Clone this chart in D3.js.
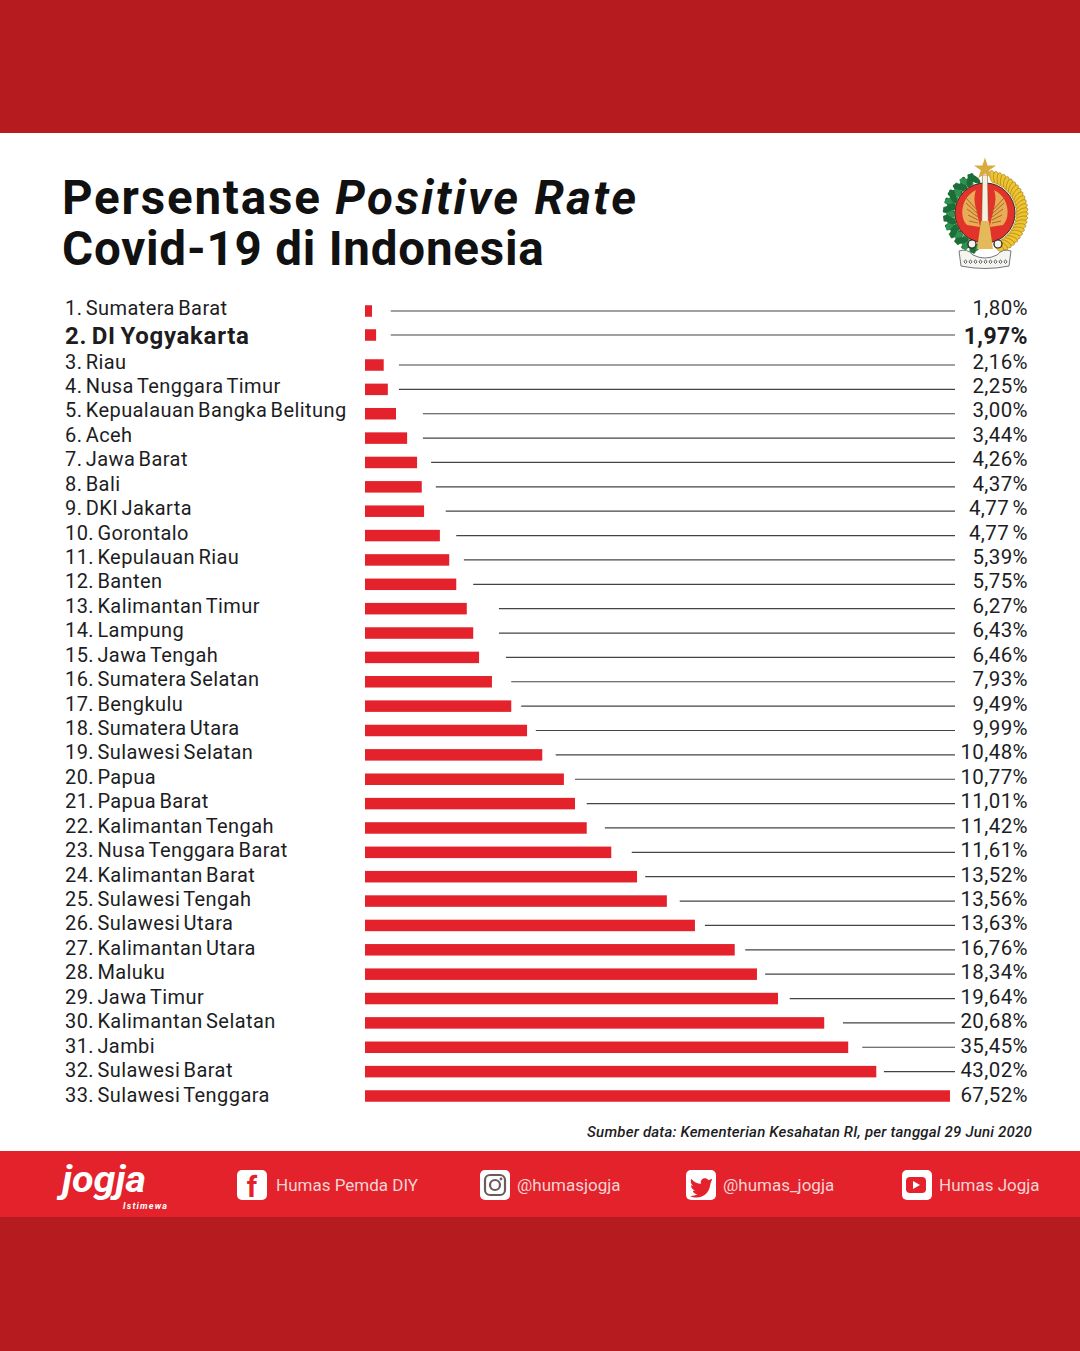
<!DOCTYPE html>
<html>
<head>
<meta charset="utf-8">
<script src="https://cdn.jsdelivr.net/npm/d3@7"></script>
<style>
  html, body { margin: 0; padding: 0; background: #fff; }
  svg { display: block; }
  text { font-family: Roboto, sans-serif; fill: #1d1d1f; }
</style>
</head>
<body>
<script>
var provinces = ["Sumatera Barat", "DI Yogyakarta", "Riau", "Nusa Tenggara Timur",
  "Kepualauan Bangka Belitung", "Aceh", "Jawa Barat", "Bali", "DKI Jakarta", "Gorontalo",
  "Kepulauan Riau", "Banten", "Kalimantan Timur", "Lampung", "Jawa Tengah", "Sumatera Selatan",
  "Bengkulu", "Sumatera Utara", "Sulawesi Selatan", "Papua", "Papua Barat", "Kalimantan Tengah",
  "Nusa Tenggara Barat", "Kalimantan Barat", "Sulawesi Tengah", "Sulawesi Utara",
  "Kalimantan Utara", "Maluku", "Jawa Timur", "Kalimantan Selatan", "Jambi", "Sulawesi Barat",
  "Sulawesi Tenggara"];

var percentLabels = ["1,80%", "1,97%", "2,16%", "2,25%", "3,00%", "3,44%", "4,26%", "4,37%",
  "4,77 %", "4,77 %", "5,39%", "5,75%", "6,27%", "6,43%", "6,46%", "7,93%", "9,49%", "9,99%",
  "10,48%", "10,77%", "11,01%", "11,42%", "11,61%", "13,52%", "13,56%", "13,63%", "16,76%",
  "18,34%", "19,64%", "20,68%", "35,45%", "43,02%", "67,52%"];

// the bars in the picture are not to scale with the percentages (4,77 has two lengths),
// so these are the lengths as drawn: longest bar = 100
var barLength = [1.2, 1.9, 3.2, 3.9, 5.3, 7.2, 8.9, 9.7, 10.1, 12.8, 14.4, 15.6, 17.4, 18.5,
  19.5, 21.7, 25, 27.7, 30.3, 34, 35.9, 37.9, 42.1, 46.5, 51.6, 56.4, 63.2, 67, 70.6, 78.5,
  82.6, 87.4, 100];

// where each thin line starts, same units. last row has no line
var leaderStart = [4.4, 4.4, 5.8, 5.8, 9.9, 9.9, 11.3, 12.1, 13.8, 15.6, 16.9, 18.5, 22.9, 22.9,
  24.1, 25, 26.7, 29.2, 32.6, 35.9, 37.9, 41, 45.6, 47.9, 53.8, 58.1, 65, 68.4, 72.6, 81.7,
  85, 88.7, null];

var socialLabels = ["Humas Pemda DIY", "@humasjogja", "@humas_jogja", "Humas Jogja"];

var highlight = "DI Yogyakarta";
var width = 1080, height = 1351;
var darkRed = "#b61c1f", red = "#e3222b";

var svg = d3.select("body").append("svg")
  .attr("width", width)
  .attr("height", height);

// page bands
svg.append("rect").attr("width", width).attr("height", height).attr("fill", "#fff");
svg.append("rect").attr("width", width).attr("height", 133).attr("fill", darkRed);
svg.append("rect").attr("y", 1217).attr("width", width).attr("height", 134).attr("fill", darkRed);
svg.append("rect").attr("y", 1151).attr("width", width).attr("height", 66).attr("fill", red);

// title
var title = svg.append("text").attr("x", 62).attr("y", 214)
  .style("font-size", "47.5px").style("font-weight", 700).style("fill", "#111");
title.append("tspan").style("letter-spacing", "1.8px").text("Persentase ");
title.append("tspan").style("font-style", "italic").style("letter-spacing", "2.3px").text("Positive Rate");
svg.append("text").attr("x", 62).attr("y", 265)
  .style("font-size", "47.5px").style("font-weight", 700).style("fill", "#111")
  .style("letter-spacing", "0.8px")
  .text("Covid-19 di Indonesia");

// scales. first rows of the list sit a bit off the regular row step
var x = d3.scaleLinear().domain([0, 100]).range([365, 950]);
var yBar = d3.scaleLinear().domain([0, 1, 2, 32]).range([311, 335, 365, 1096]);
var yText = d3.scaleLinear().domain([0, 1, 2, 32]).range([315, 344, 368.5, 1101.5]);

var rows = svg.selectAll(".row")
    .data(provinces)
  .enter().append("g")
    .attr("class", "row");

rows.append("text")
    .attr("x", 65)
    .attr("y", function(d, i) { return yText(i); })
    .style("font-size", function(d) { return d == highlight ? "24px" : "20px"; })
    .style("font-weight", function(d) { return d == highlight ? 700 : 400; })
    .style("letter-spacing", function(d) { return d == highlight ? "0.7px" : "0.42px"; })
    .style("word-spacing", "-2px")
    .text(function(d, i) { return (i + 1) + ". " + d; });

rows.append("rect")
    .attr("x", x(0))
    .attr("y", function(d, i) { return yBar(i) - 5.75; })
    .attr("width", function(d, i) { return x(barLength[i]) - x(0); })
    .attr("height", 11.5)
    .attr("fill", red);

rows.append("line")
    .attr("x1", function(d, i) { return leaderStart[i] == null ? 955 : x(leaderStart[i]); })
    .attr("x2", 955)
    .attr("y1", function(d, i) { return yBar(i); })
    .attr("y2", function(d, i) { return yBar(i); })
    .attr("stroke", "#444")
    .attr("stroke-width", 1.2);

rows.append("text")
    .attr("x", 1028)
    .attr("y", function(d, i) { return yText(i); })
    .attr("text-anchor", "end")
    .style("font-size", function(d) { return d == highlight ? "23px" : "20.5px"; })
    .style("font-weight", function(d) { return d == highlight ? 700 : 400; })
    .style("letter-spacing", "0.4px")
    .style("word-spacing", "-2px")
    .text(function(d, i) { return percentLabels[i]; });

// source note
svg.append("text").attr("x", 1032).attr("y", 1137).attr("text-anchor", "end")
  .style("font-size", "15px").style("font-style", "italic").style("font-weight", 500)
  .style("letter-spacing", "0.2px")
  .text("Sumber data: Kementerian Kesahatan RI, per tanggal 29 Juni 2020");

// emblem, rough version of the logo
var emblem = svg.append("g").attr("transform", "translate(985,213)");

function leafAngle(i, n, from, to) { return from + (to - from) * i / (n - 1); }

d3.range(24).forEach(function(i) {
  var a = leafAngle(i, 24, -165, -18);
  emblem.append("ellipse")
    .attr("rx", 7.5).attr("ry", 3.2)
    .attr("transform", "rotate(" + a + ") translate(0,-36) rotate(" + (i % 2 ? 50 : -50) + ")")
    .attr("fill", i % 3 ? "#1c6e38" : "#2f9150");
});
d3.range(26).forEach(function(i) {
  var a = leafAngle(i, 26, 12, 158);
  emblem.append("ellipse")
    .attr("rx", 6.5).attr("ry", 2.8)
    .attr("transform", "rotate(" + a + ") translate(0,-37) rotate(65)")
    .attr("fill", "#efc42f")
    .attr("stroke", "#8a6d1a").attr("stroke-width", 0.5);
});

emblem.append("circle").attr("r", 30).attr("fill", "#e2332a");
emblem.append("circle").attr("r", 30).attr("fill", "none").attr("stroke", "#3a2a1a").attr("stroke-width", 1);

[-1, 1].forEach(function(side) {
  emblem.append("path")
    .attr("d", "M" + side * 5 + ",14 C" + side * 8 + ",-4 " + side * 13 + ",-12 " + side * 9 + ",-23 C"
      + side * 24 + ",-16 " + side * 26 + ",4 " + side * 18 + ",12 Z")
    .attr("fill", "#e8ab56");
  d3.range(5).forEach(function(i) {
    emblem.append("line")
      .attr("x1", side * 7).attr("y1", 10 - i * 3)
      .attr("x2", side * (16 + i)).attr("y2", 8 - i * 6)
      .attr("stroke", "#a96a22").attr("stroke-width", 1);
  });
});

// pillar with the white top and gold foot
emblem.append("path").attr("d", "M-2.5,-38 L2.5,-38 L3.5,20 L-3.5,20 Z").attr("fill", "#f6f1de").attr("stroke", "#6a4a20").attr("stroke-width", 0.5);
emblem.append("path").attr("d", "M-4,8 L4,8 L8,36 L-8,36 Z").attr("fill", "#e4b95a");
emblem.append("circle").attr("cx", -13).attr("cy", 31).attr("r", 4).attr("fill", "#f4f2ea").attr("stroke", "#222").attr("stroke-width", 1.2);
emblem.append("circle").attr("cx", 13).attr("cy", 31).attr("r", 4).attr("fill", "#f4f2ea").attr("stroke", "#222").attr("stroke-width", 1.2);

emblem.append("path").attr("d", d3.symbol().type(d3.symbolStar).size(150)).attr("transform", "translate(0,-44)").attr("fill", "#d9ab3c");
emblem.append("path").attr("d", "M-26,38 Q-18,35 -12,42 Q0,48 12,42 Q18,35 26,38 L24,53 Q0,58 -24,53 Z")
  .attr("fill", "#f4f4f0").attr("stroke", "#777").attr("stroke-width", 1);
d3.range(9).forEach(function(i) {
  emblem.append("path")
    .attr("d", "M" + (-21 + i * 5) + ",49 q1.5,-4 3,0 q-1.5,3 -3,0")
    .attr("fill", "none").attr("stroke", "#555").attr("stroke-width", 0.9);
});

// footer
svg.append("text").attr("x", 62).attr("y", 1192)
  .style("font-size", "36px")
  .style("font-style", "italic").style("font-weight", 700).style("fill", "#fff")
  .attr("textLength", 84).attr("lengthAdjust", "spacingAndGlyphs")
  .text("jogja");
svg.append("text").attr("x", 123).attr("y", 1209)
  .style("font-size", "9px").style("font-style", "italic").style("font-weight", 700).style("fill", "#fff")
  .attr("textLength", 44)
  .text("Istimewa");

var iconX = [237, 480, 686, 902];
var textX = [276, 517, 723, 939];
var socials = svg.selectAll(".social")
    .data(socialLabels)
  .enter().append("g")
    .attr("class", "social");
socials.append("rect")
    .attr("x", function(d, i) { return iconX[i]; })
    .attr("y", 1170)
    .attr("width", 30).attr("height", 30).attr("rx", 5)
    .attr("fill", "#fff");
socials.append("text")
    .attr("x", function(d, i) { return textX[i]; })
    .attr("y", 1191)
    .style("font-size", "17px")
    .style("fill", "#f7d4d4")
    .text(function(d) { return d; });

// icon glyphs
svg.append("text").attr("x", 252).attr("y", 1197).attr("text-anchor", "middle")
  .style("font-size", "29px").style("font-weight", 700).style("fill", red).text("f");

var ig = svg.append("g").attr("transform", "translate(495,1185)").attr("fill", "none").attr("stroke", "#6d5a5a");
ig.append("rect").attr("x", -10).attr("y", -10).attr("width", 20).attr("height", 20).attr("rx", 5).attr("stroke-width", 2.2);
ig.append("circle").attr("r", 5).attr("stroke-width", 2.2);
ig.append("circle").attr("cx", 6).attr("cy", -6).attr("r", 0.8).attr("stroke-width", 1.2);

svg.append("path")
  .attr("transform", "translate(690,1175) scale(0.92)")
  .attr("d", "M24,4 C22,5 21,5.5 20,5.5 C18,3 14,3 12.5,5.5 C11.5,7 11.5,8 12,9.5 C8,9.5 4,7.5 1.5,4 C0,7 1,10 3.5,12 C2.5,12 1.5,11.5 1,11 C1,14 3,16 5.5,17 C4.5,17.3 3.5,17.3 3,17 C3.5,19.5 6,20.5 8,21 C5.5,22.5 3,23 0,22.8 C8,27 20,24 22,11 C22,9 23.5,7 24,4 Z")
  .attr("fill", red);

svg.append("rect").attr("x", 906).attr("y", 1177).attr("width", 20).attr("height", 16).attr("rx", 4).attr("fill", red);
svg.append("path").attr("d", "M913,1181 L920,1185 L913,1189 Z").attr("fill", "#fff");
</script>
</body>
</html>
